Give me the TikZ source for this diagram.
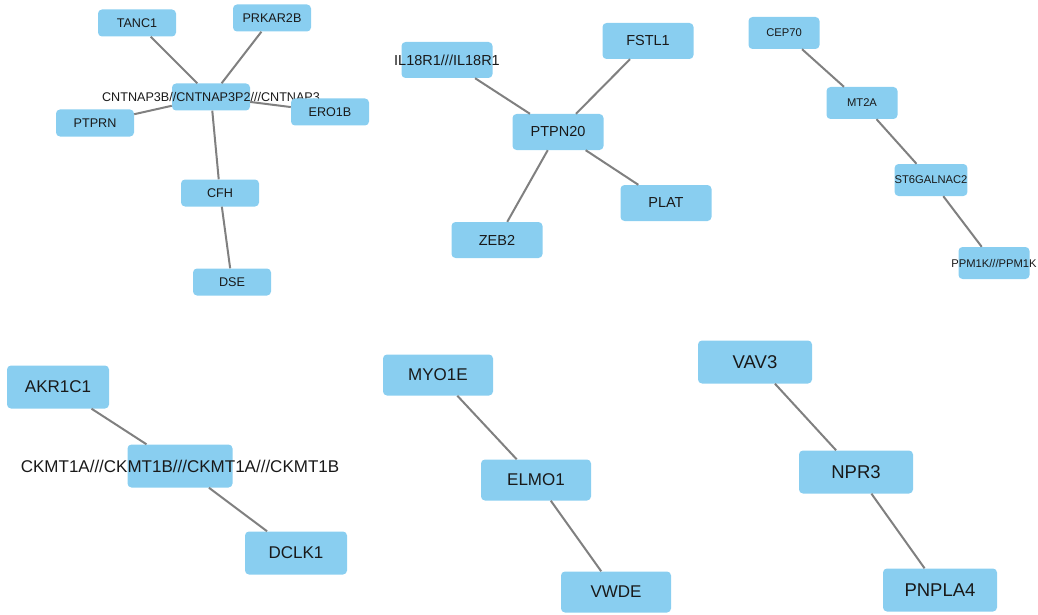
\documentclass[tikz,border=0pt]{standalone}
\usepackage{fontspec}
\setmainfont{Liberation Sans}
\definecolor{genefill}{RGB}{137,206,240}
\definecolor{edgegray}{RGB}{128,128,128}
\definecolor{genetext}{RGB}{25,25,25}
\tikzset{
  gene/.style={rectangle, rounded corners=4pt, fill=genefill, text=genetext, inner sep=0pt},
  link/.style={draw=edgegray, line width=2pt},
  tiny/.style={gene, minimum width=78, minimum height=27, font=\fontsize{12.6}{13}\selectfont},
  mid/.style={gene, minimum width=91, minimum height=36, font=\fontsize{14.5}{15}\selectfont},
  small/.style={gene, minimum width=71, minimum height=32, font=\fontsize{11.2}{12}\selectfont},
  big/.style={gene, minimum width=102, minimum height=43, font=\fontsize{17}{18}\selectfont},
  large/.style={gene, minimum width=110, minimum height=41, font=\fontsize{17}{18}\selectfont},
  huge/.style={gene, minimum width=114, minimum height=43, font=\fontsize{18.5}{19}\selectfont},
}
\begin{document}
\begin{tikzpicture}[x=1pt, y=-1pt]
\useasboundingbox (0,0) rectangle (1038,615);

\node[tiny] (cnt) at (211,97) {\makebox[0pt]{CNTNAP3B//CNTNAP3P2///CNTNAP3}};
\node[tiny] (tanc) at (137,23) {TANC1};
\node[tiny] (prkar) at (272,18) {PRKAR2B};
\node[tiny] (ptprn) at (95,123) {PTPRN};
\node[tiny] (ero) at (330,112) {ERO1B};
\node[tiny] (cfh) at (220,193) {CFH};
\node[tiny] (dse) at (232,282) {DSE};
\draw[link] (tanc) -- (cnt) (prkar) -- (cnt) (ptprn) -- (cnt) (ero) -- (cnt)
  (cnt) -- (cfh) (cfh) -- (dse);

\node[mid] (ptpn) at (558,132) {PTPN20};
\node[mid] (il) at (447,60) {\makebox[0pt]{IL18R1///IL18R1}};
\node[mid] (fstl) at (648,41) {FSTL1};
\node[mid] (plat) at (666,203) {PLAT};
\node[mid] (zeb) at (497,240) {ZEB2};
\draw[link] (il) -- (ptpn) (fstl) -- (ptpn) (ptpn) -- (plat) (ptpn) -- (zeb);

\node[small] (cep) at (784,33) {CEP70};
\node[small] (mt) at (862,103) {MT2A};
\node[small] (st) at (931,180) {ST6GALNAC2};
\node[small] (ppm) at (994,263) {\makebox[0pt]{PPM1K///PPM1K}};
\draw[link] (cep) -- (mt) (mt) -- (st) (st) -- (ppm);

\node[big] (akr) at (58,387) {AKR1C1};
\node[big, minimum width=105] (ckmt) at (180,466) {\makebox[0pt]{CKMT1A///CKMT1B///CKMT1A///CKMT1B}};
\node[big] (dclk) at (296,553) {DCLK1};
\draw[link] (akr) -- (ckmt) (ckmt) -- (dclk);

\node[large] (myo) at (438,375) {MYO1E};
\node[large] (elmo) at (536,480) {ELMO1};
\node[large] (vwde) at (616,592) {VWDE};
\draw[link] (myo) -- (elmo) (elmo) -- (vwde);

\node[huge] (vav) at (755,362) {VAV3};
\node[huge] (npr) at (856,472) {NPR3};
\node[huge] (pnpla) at (940,590) {PNPLA4};
\draw[link] (vav) -- (npr) (npr) -- (pnpla);
\end{tikzpicture}
\end{document}
